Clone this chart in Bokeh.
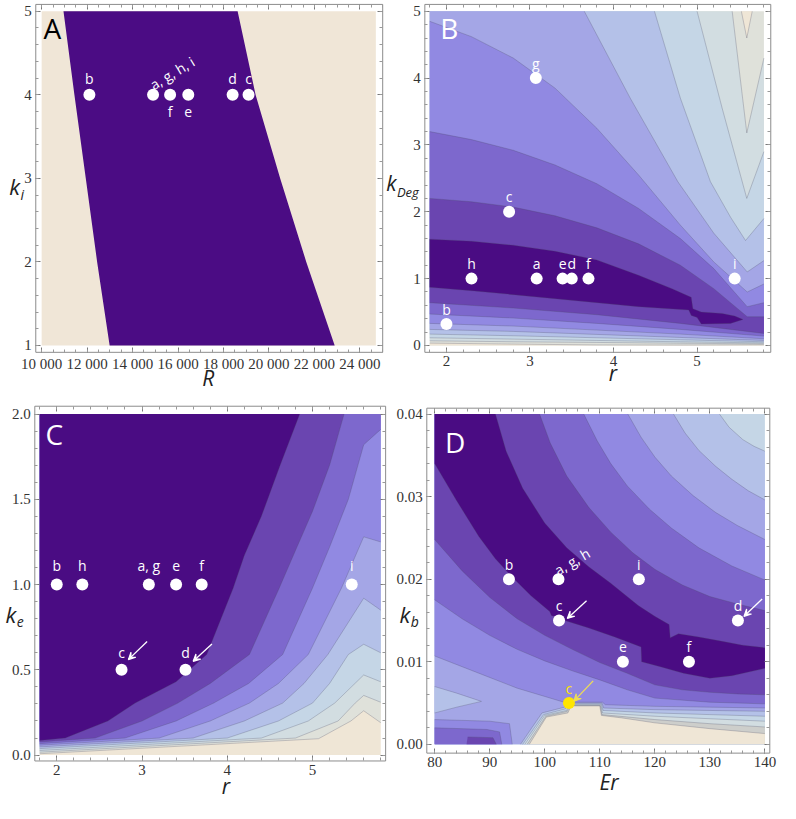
from bokeh.plotting import figure
from bokeh.layouts import column, row
from bokeh.models import Range1d, FixedTicker, Arrow, VeeHead, LinearAxis
from bokeh.embed import file_html
from bokeh.resources import INLINE
from bokeh.core.properties import value

# ---------------- palette: contour level colours, index 9 = darkest ----------------
LEVELS = ["#efe6d6", "#dfe1da", "#d2dde1", "#c5d6e6", "#b4c1e8",
          "#a4a6e6", "#9189e2", "#7d68cd", "#6a45b0", "#4a0c83"]
A_PURPLE = "#4b0c84"
A_BEIGE = "#f0e6d7"
LINE_C = "#4c4c66"
FRAME_C = "#8c8c8c"
YELLOW = "#ffe500"

# ================= Panel A data =================
A_R_EXTENT = [10000, 24700]
A_KI_EXTENT = [1, 5]
A_BAND_KI = [5, 4, 3, 2, 1]
A_BAND_LEFT_R = [10960, 11440, 11940, 12440, 12990]
A_BAND_RIGHT_R = [18620, 19410, 20490, 21640, 22890]
A_PT_R = [14900, 12100, 19100, 18400, 16450, 15650]
A_PT_KI = [4, 4, 4, 4, 4, 4]
A_PT_LAB = ["a, g, h, i", "b", "c", "d", "e", "f"]
A_X_TICKS = [10000, 12000, 14000, 16000, 18000, 20000, 22000, 24000]
A_X_TICK_LABELS = ["10 000", "12 000", "14 000", "16 000", "18 000", "20 000", "22 000", "24 000"]
A_Y_TICKS = [1, 2, 3, 4, 5]

# ================= Panel B data (r, kDeg) =================
B_R_EXTENT = [1.8, 5.8]
B_K_EXTENT = [0.0, 5.0]
B_C0_X = [5.53, 5.595, 5.66]
B_C0_Y = [5.0, 4.6, 5.0]
B_C1_X = [5.42, 5.595, 5.8]
B_C1_Y = [5.0, 3.18, 4.3]
B_C2_X = [5.0, 5.3, 5.595, 5.8]
B_C2_Y = [5.0, 3.55, 2.2, 2.9]
B_C3_X = [4.49, 4.8, 5.16, 5.4, 5.58, 5.8]
B_C3_Y = [5.0, 3.7, 2.45, 1.92, 1.57, 1.9]
B_C4_X = [3.65, 4.2, 4.77, 5.2, 5.6, 5.8]
B_C4_Y = [5.0, 3.7, 2.45, 1.68, 1.1, 1.27]
B_UP_X = [1.8, 2.3, 2.8, 3.3, 3.8, 4.3, 4.8, 5.2, 5.6, 5.8]
B_C5_Y = [4.85, 4.62, 4.3, 3.85, 3.25, 2.55, 1.8, 1.25, 0.8, 0.92]
B_C6_Y = [3.2, 3.08, 2.92, 2.7, 2.42, 2.05, 1.6, 1.15, 0.58, 0.64]
B_C7_Y = [2.2, 2.15, 2.07, 1.94, 1.76, 1.52, 1.2, 0.85, 0.43, 0.43]
B_DARK_X = [1.8, 2.3, 2.8, 3.3, 3.8, 4.3, 4.7, 4.93, 4.95, 5.05, 5.3, 5.45, 5.55,
            5.4, 5.05, 5.0, 4.93, 4.9, 4.3, 3.8, 3.3, 2.8, 2.3, 1.8]
B_DARK_Y = [1.59, 1.56, 1.5, 1.41, 1.28, 1.05, 0.85, 0.72, 0.55, 0.5, 0.48, 0.44, 0.39,
            0.33, 0.32, 0.42, 0.45, 0.53, 0.58, 0.64, 0.7, 0.76, 0.82, 0.87]
B_LOW_X = [1.8, 2.8, 3.8, 4.8, 5.8]
B_LC0_Y = [0.035, 0.02, 0.008, 0.006, 0.01]
B_LC1_Y = [0.07, 0.055, 0.045, 0.033, 0.024]
B_LC2_Y = [0.115, 0.095, 0.075, 0.055, 0.038]
B_LC3_Y = [0.17, 0.145, 0.115, 0.085, 0.055]
B_LC4_Y = [0.24, 0.21, 0.165, 0.12, 0.075]
B_LC5_Y = [0.33, 0.29, 0.23, 0.17, 0.1]
B_LC6_Y = [0.47, 0.41, 0.33, 0.24, 0.14]
B_LC7_Y = [0.64, 0.56, 0.46, 0.33, 0.18]
B_PT_R = [3.08, 2.0, 2.75, 3.5, 3.39, 3.7, 3.07, 2.3, 5.45]
B_PT_K = [1, 0.32, 2, 1, 1, 1, 4, 1, 1]
B_PT_LAB = ["a", "b", "c", "d", "e", "f", "g", "h", "i"]
B_X_TICKS = [2, 3, 4, 5]
B_Y_TICKS = [0, 1, 2, 3, 4, 5]

# ================= Panel C data (r, ke) =================
C_R_EXTENT = [1.8, 5.8]
C_K_EXTENT = [0.0, 2.0]
C_C0_X = [5.8, 5.6, 5.45, 5.07, 1.8]
C_C0_Y = [0.19, 0.26, 0.2, 0.096, 0.008]
C_C1_X = [5.8, 5.6, 5.5, 5.3, 4.8, 1.8]
C_C1_Y = [0.31, 0.35, 0.305, 0.2, 0.1, 0.017]
C_C2_X = [5.8, 5.6, 5.26, 4.95, 4.4, 1.8]
C_C2_Y = [0.43, 0.47, 0.305, 0.2, 0.1, 0.027]
C_C3_X = [5.8, 5.6, 5.42, 5.2, 5.0, 4.6, 4.0, 1.8]
C_C3_Y = [0.6, 0.65, 0.59, 0.42, 0.305, 0.2, 0.1, 0.038]
C_C4_X = [5.8, 5.6, 5.18, 4.9, 4.65, 4.2, 3.6, 1.8]
C_C4_Y = [0.85, 0.92, 0.59, 0.42, 0.305, 0.2, 0.1, 0.048]
C_C5_X = [5.8, 5.6, 5.34, 4.95, 4.6, 4.26, 3.8, 3.2, 1.8]
C_C5_Y = [1.25, 1.28, 0.98, 0.59, 0.42, 0.305, 0.2, 0.1, 0.058]
C_C6_X = [5.8, 5.6, 5.42, 5.2, 5.0, 4.65, 4.25, 3.84, 3.4, 2.8, 1.8]
C_C6_Y = [1.91, 1.82, 1.5, 1.22, 0.98, 0.59, 0.42, 0.305, 0.2, 0.1, 0.067]
C_C7_X = [5.37, 5.2, 5.0, 4.8, 4.61, 4.26, 3.8, 3.42, 3.0, 2.45, 1.8]
C_C7_Y = [2.0, 1.7, 1.43, 1.2, 0.98, 0.59, 0.42, 0.305, 0.2, 0.1, 0.077]
C_C8_X = [4.85, 4.62, 4.4, 4.2, 4.07, 3.76, 3.4, 2.92, 2.6, 2.1, 1.8]
C_C8_Y = [2.0, 1.7, 1.4, 1.17, 0.98, 0.59, 0.43, 0.305, 0.2, 0.1, 0.086]
C_PT_R = [3.08, 2.0, 2.76, 3.51, 3.4, 3.7, 2.3, 5.46]
C_PT_K = [1, 1, 0.5, 0.5, 1, 1, 1, 1]
C_PT_LAB = ["a, g", "b", "c", "d", "e", "f", "h", "i"]
C_ARROW_X0 = [3.06, 3.82]
C_ARROW_Y0 = [0.666, 0.652]
C_ARROW_X1 = [2.84, 3.60]
C_ARROW_Y1 = [0.56, 0.55]
C_X_TICKS = [2, 3, 4, 5]
C_Y_TICKS = [0.0, 0.5, 1.0, 1.5, 2.0]

# ================= Panel D data (Er, kb) =================
D_E_EXTENT = [80, 140]
D_K_EXTENT = [0.0, 0.04]
D_C3_X = [131.75, 133.5, 136, 138, 140]
D_C3_Y = [0.04, 0.0384, 0.0369, 0.0361, 0.0355]
D_C4_X = [123.4, 125.5, 128, 131, 134, 137, 140]
D_C4_Y = [0.04, 0.0377, 0.0356, 0.0337, 0.0321, 0.0307, 0.0296]
D_C5_X = [115.1, 117.5, 120, 123, 127, 131, 135, 140]
D_C5_Y = [0.04, 0.0372, 0.0348, 0.0325, 0.0301, 0.0281, 0.0265, 0.0248]
D_C6_X = [107.1, 109.5, 112, 115, 119, 123, 128, 134, 140]
D_C6_Y = [0.04, 0.0368, 0.034, 0.0313, 0.0285, 0.0262, 0.0238, 0.0216, 0.0199]
D_C7_X = [99.07, 101, 104, 108, 112, 116, 120, 125, 130, 135, 140]
D_C7_Y = [0.04, 0.0365, 0.0325, 0.0287, 0.0257, 0.0232, 0.0212, 0.0193, 0.0179, 0.017, 0.0162]
D_DARK_UP_X = [91.05, 93, 96, 100, 104, 108, 112, 117, 120, 122.6, 122.8, 124.3, 128, 132, 136, 140]
D_DARK_UP_Y = [0.04, 0.0355, 0.031, 0.0268, 0.0238, 0.0215, 0.0195, 0.0168, 0.0155, 0.0145,
               0.0129, 0.0134, 0.013, 0.0125, 0.012, 0.0117]
D_DARK_LO_X = [80, 84, 88, 91, 94.3, 97.5, 100.9, 101.2, 103.2, 108, 112.7, 117.5, 117.6,
               121, 125.2, 130, 134, 140]
D_DARK_LO_Y = [0.034, 0.0295, 0.0252, 0.0225, 0.0201, 0.018, 0.0161, 0.0156, 0.0151, 0.0141,
               0.013, 0.0118, 0.01, 0.0094, 0.0086, 0.008, 0.0083, 0.0092]
D_L1_LO_X = [80, 85, 90, 95, 100, 105, 110, 115, 120, 125, 130, 135, 140]
D_L1_LO_Y = [0.0248, 0.021, 0.0178, 0.0152, 0.0132, 0.0115, 0.0099, 0.0086, 0.0072, 0.0066,
             0.0063, 0.0061, 0.006]
D_L2_LO_X = [80, 85, 90, 95, 100, 105, 110, 115, 120, 130, 140]
D_L2_LO_Y = [0.0175, 0.0152, 0.0132, 0.0115, 0.0101, 0.0089, 0.0078, 0.0066, 0.0056, 0.0051, 0.0049]
D_L3_LO_X = [80, 85, 90, 95, 100, 103.5, 110.5, 111, 120, 130, 140]
D_L3_LO_Y = [0.0107, 0.0094, 0.0081, 0.0068, 0.0058, 0.0051, 0.0051, 0.0048, 0.0046, 0.0045, 0.0044]
D_WEDGE_X = [80, 84, 88.5, 84, 80]
D_WEDGE_Y = [0.007, 0.0062, 0.0052, 0.0045, 0.0038]
D_CORNER3_X = [80, 80, 90, 93.6, 94.1]
D_CORNER3_Y = [0, 0.003, 0.0028, 0.0025, 0]
D_CORNER2_X = [80, 80, 89.5, 91.8, 92.2]
D_CORNER2_Y = [0, 0.002, 0.0018, 0.0015, 0]
D_CORNER1_X = [85.8, 86, 90.6, 91.2]
D_CORNER1_Y = [0, 0.0009, 0.0008, 0]
D_SL1_X = [95.6, 99.5, 103.6, 104.0, 110.4, 110.7, 120, 130, 140]
D_SL1_Y = [0, 0.0038, 0.0045, 0.005, 0.005, 0.0044, 0.0042, 0.0041, 0.004]
D_SL2_X = [96.0, 99.8, 103.8, 104.2, 110.3, 110.6, 120, 130, 140]
D_SL2_Y = [0, 0.0036, 0.0043, 0.0049, 0.0049, 0.0041, 0.0038, 0.0036, 0.0034]
D_SL3_X = [96.4, 100.0, 104.0, 104.4, 110.2, 110.5, 120, 130, 140]
D_SL3_Y = [0, 0.0035, 0.0041, 0.0048, 0.0048, 0.0038, 0.0034, 0.0031, 0.0028]
D_SL4_X = [96.8, 100.2, 104.1, 104.6, 110.1, 110.4, 120, 130, 140]
D_SL4_Y = [0, 0.0034, 0.004, 0.0047, 0.0047, 0.0036, 0.003, 0.0025, 0.0021]
D_BEIGE_X = [97.2, 100.3, 104.2, 104.8, 110.0, 110.3, 114, 120, 130, 140]
D_BEIGE_Y = [0, 0.0033, 0.0038, 0.00465, 0.00465, 0.0035, 0.0032, 0.0026, 0.0019, 0.0013]
D_PT_E = [102.5, 93.5, 102.6, 135.1, 114.2, 126.2, 117.1]
D_PT_K = [0.02, 0.02, 0.015, 0.015, 0.01, 0.01, 0.02]
D_PT_LAB = ["a, g, h", "b", "c", "d", "e", "f", "i"]
D_HL_E = [104.4]
D_HL_K = [0.005]
D_HL_LAB = ["c"]
D_ARROW_X0 = [107.6, 139.5]
D_ARROW_Y0 = [0.0174, 0.0176]
D_ARROW_X1 = [104.1, 136.2]
D_ARROW_Y1 = [0.01525, 0.0155]
D_HL_ARROW = [108.8, 0.00768, 105.3, 0.00523]
D_X_TICKS = [80, 90, 100, 110, 120, 130, 140]
D_Y_TICKS = [0.0, 0.01, 0.02, 0.03, 0.04]

# ---------------- page geometry (reference pixels scaled into the window) ----------------
SCALE = 0.98


def page(r):
    return 8 + SCALE * r


class Panel:
    def __init__(self, cx0, cy0, cw, ch, xa, ya, box):
        (px1, v1), (px2, v2) = xa
        c1, c2 = page(px1) - cx0, page(px2) - cx0
        kx = (v2 - v1) / (c2 - c1)
        (py1, w1), (py2, w2) = ya
        d1, d2 = page(py1) - cy0, page(py2) - cy0
        ky = (w2 - w1) / (d2 - d1)
        self.X = lambda rx: v1 + (page(rx) - cx0 - c1) * kx
        self.Y = lambda ry: w1 + (page(ry) - cy0 - d1) * ky
        xs, xe = v1 - c1 * kx, v1 + (cw - c1) * kx
        yt, yb = w1 - d1 * ky, w1 + (ch - d1) * ky
        self.box = (self.X(box[0]), self.X(box[1]), self.Y(box[3]), self.Y(box[2]))
        p = figure(frame_width=cw, frame_height=ch, x_range=Range1d(xs, xe), y_range=Range1d(yb, yt),
                   min_border=0, min_border_left=0, min_border_right=0, min_border_top=0,
                   min_border_bottom=0, output_backend="svg", toolbar_location=None)
        p.grid.visible = False
        p.outline_line_color = None
        p.background_fill_color = "white"
        p.border_fill_color = "white"
        self.p = p

    def axes(self, xt, xm, yt, ym, xover=None, yover=None):
        p = self.p
        bx0, bx1, by0, by1 = self.box
        xm = [m for m in xm if bx0 <= m <= bx1]
        ym = [m for m in ym if by0 <= m <= by1]
        bottom, left = p.xaxis[0], p.yaxis[0]
        top = LinearAxis()
        right = LinearAxis()
        p.add_layout(top, "above")
        p.add_layout(right, "right")
        bottom.fixed_location = by0
        top.fixed_location = by1
        left.fixed_location = bx0
        right.fixed_location = bx1
        for ax, t, m, ov, shown in ((bottom, xt, xm, xover, True), (top, xt, xm, None, False),
                                     (left, yt, ym, yover, True), (right, yt, ym, None, False)):
            ax.ticker = FixedTicker(ticks=t, minor_ticks=m)
            ax.axis_line_color = None
            ax.major_tick_line_color = "#777777"
            ax.minor_tick_line_color = "#999999"
            ax.major_tick_in = 5
            ax.major_tick_out = 0
            ax.minor_tick_in = 3
            ax.minor_tick_out = 0
            ax.major_label_text_font = "Liberation Serif"
            ax.major_label_text_font_size = "15px"
            ax.major_label_text_color = "#333333"
            ax.major_label_standoff = 4
            if not shown:
                ax.major_label_overrides = {v: "" for v in t}
            elif ov:
                ax.major_label_overrides = ov

    def frame_box(self):
        bx0, bx1, by0, by1 = self.box
        self.p.quad(left=[bx0], right=[bx1], bottom=[by0], top=[by1], fill_color=None,
                    line_color=FRAME_C, line_width=1)

    def text(self, rx, ry, txt, size, color="#222222", align="center", italic=True):
        self.p.text(x=[self.X(rx)], y=[self.Y(ry)], text=[txt], text_color=color,
                    text_font=value("Open Sans"), text_font_size=size,
                    text_font_style="italic" if italic else "normal",
                    text_align=align, text_baseline="middle")

    def ytitle(self, kx_right, ky, sub, sub_y, ksize="22px", ssize="14px"):
        self.text(kx_right, ky, "k", ksize, align="right")
        self.text(kx_right + 0.5, sub_y, sub, ssize, align="left")


def fill(p, xs, ys, color):
    p.patch(list(xs), list(ys), fill_color=color, line_color=None)


def cline(p, xs, ys):
    p.line(list(xs), list(ys), line_color=LINE_C, line_alpha=0.45, line_width=0.6)


def rect(p, xe, ye, color):
    p.quad(left=[xe[0]], right=[xe[1]], bottom=[ye[0]], top=[ye[1]], fill_color=color, line_color=None)


def dots(p, xs, ys, color="white"):
    p.scatter(list(xs), list(ys), size=12, fill_color=color, line_color=None)


def labels(p, xs, ys, txt, dy, color="white", angle=0.0, align="center", dx=0, baseline="middle"):
    p.text(x=list(xs), y=list(ys), text=list(txt), text_color=color, text_font=value("Open Sans"),
           text_font_size="14px", text_align=align, text_baseline=baseline,
           x_offset=dx, y_offset=dy, angle=angle)


def arrow(p, x0, y0, x1, y1, color="white"):
    p.add_layout(Arrow(end=VeeHead(size=7, fill_color=color, line_color=color, line_width=1.2),
                       x_start=x0, y_start=y0, x_end=x1, y_end=y1,
                       line_color=color, line_width=1.3))


def pick(vals, idx):
    return [vals[i] for i in idx]


# ================= Panel A =================
A = Panel(8, 8, 384, 402, ((42, 10000), (383, 24700)), ((11, 5), (352, 1)), (36, 390, 4, 359))
pA = A.p
A.axes(A_X_TICKS, list(range(9500, 25500, 500)), A_Y_TICKS, [0.8 + 0.2 * i for i in range(24)],
       xover={t: s for t, s in zip(A_X_TICKS, A_X_TICK_LABELS)})
rect(pA, A_R_EXTENT, A_KI_EXTENT, A_BEIGE)
fill(pA, A_BAND_LEFT_R + A_BAND_RIGHT_R[::-1], A_BAND_KI + A_BAND_KI[::-1], A_PURPLE)
A.frame_box()
dots(pA, A_PT_R, A_PT_KI)
labels(pA, pick(A_PT_R, [1, 2, 3]), pick(A_PT_KI, [1, 2, 3]), pick(A_PT_LAB, [1, 2, 3]), -16)
labels(pA, pick(A_PT_R, [4, 5]), pick(A_PT_KI, [4, 5]), pick(A_PT_LAB, [4, 5]), 17)
labels(pA, pick(A_PT_R, [0]), pick(A_PT_KI, [0]), pick(A_PT_LAB, [0]), -9, angle=0.55,
       align="left", dx=-2, baseline="alphabetic")
A.text(53, 28, "A", "28px", color="black", italic=False)
A.text(212, 385, "R", "21px")
A.ytitle(20, 189.5, "i", 198)

# ================= Panel B =================
B = Panel(392, 8, 396, 402, ((438, 1.8), (779, 5.8)), ((11, 5), (352, 0)), (433, 786, 4, 359))
pB = B.p
B.axes(B_X_TICKS, [1.6 + 0.2 * i for i in range(23)], B_Y_TICKS, [-0.2 + 0.2 * i for i in range(28)])
bxmin, bxmax = B_R_EXTENT
bymin, bymax = B_K_EXTENT
rect(pB, B_R_EXTENT, B_K_EXTENT, LEVELS[1])
fill(pB, B_C0_X, B_C0_Y, LEVELS[0])
fill(pB, B_LOW_X + [bxmax, bxmin], B_LC0_Y + [bymin, bymin], LEVELS[0])
b_uppers = [(B_C1_X, B_C1_Y, True), (B_C2_X, B_C2_Y, True), (B_C3_X, B_C3_Y, True),
            (B_C4_X, B_C4_Y, True), (B_UP_X, B_C5_Y, False), (B_UP_X, B_C6_Y, False),
            (B_UP_X, B_C7_Y, False)]
b_lowers = [B_LC1_Y, B_LC2_Y, B_LC3_Y, B_LC4_Y, B_LC5_Y, B_LC6_Y, B_LC7_Y]
for k, ((ux, uy, top), ly) in enumerate(zip(b_uppers, b_lowers), start=2):
    xs = ([bxmin] if top else []) + list(ux) + B_LOW_X[::-1]
    ys = ([bymax] if top else []) + list(uy) + ly[::-1]
    fill(pB, xs, ys, LEVELS[k])
fill(pB, B_DARK_X, B_DARK_Y, LEVELS[9])
cline(pB, B_C0_X, B_C0_Y)
for ux, uy, _ in b_uppers:
    cline(pB, ux, uy)
for ly in [B_LC0_Y] + b_lowers:
    cline(pB, B_LOW_X, ly)
cline(pB, B_DARK_X + B_DARK_X[:1], B_DARK_Y + B_DARK_Y[:1])
B.frame_box()
dots(pB, B_PT_R, B_PT_K)
labels(pB, B_PT_R, B_PT_K, B_PT_LAB, -15)
B.text(458, 28, "B", "28px", color="white", italic=False)
B.text(625, 380, "r", "21px")
B.ytitle(404, 186, "Deg", 195, ksize="21px", ssize="13px")

# ================= Panel C =================
C = Panel(8, 410, 388, 401, ((40, 1.8), (388, 5.8)), ((422, 2.0), (770, 0.0)), (35, 393, 414, 776))
pC = C.p
C.axes(C_X_TICKS, [1.6 + 0.2 * i for i in range(23)], C_Y_TICKS, [-0.1 + 0.1 * i for i in range(23)],
       yover={0.0: "0.0", 0.5: "0.5", 1.0: "1.0", 1.5: "1.5", 2.0: "2.0"})
cxmin, cxmax = C_R_EXTENT
cymin, cymax = C_K_EXTENT
rect(pC, C_R_EXTENT, C_K_EXTENT, LEVELS[0])
c_lines = [(C_C0_X, C_C0_Y), (C_C1_X, C_C1_Y), (C_C2_X, C_C2_Y), (C_C3_X, C_C3_Y),
           (C_C4_X, C_C4_Y), (C_C5_X, C_C5_Y), (C_C6_X, C_C6_Y), (C_C7_X, C_C7_Y),
           (C_C8_X, C_C8_Y)]
for k, (cx, cy) in enumerate(c_lines, start=1):
    from_right = cx[0] >= cxmax
    xs = list(cx) + [cxmin] + ([cxmax] if from_right else [])
    ys = list(cy) + [cymax] + ([cymax] if from_right else [])
    fill(pC, xs, ys, LEVELS[k])
for cx, cy in c_lines:
    cline(pC, cx, cy)
C.frame_box()
dots(pC, C_PT_R, C_PT_K)
labels(pC, pick(C_PT_R, [0, 1, 4, 5, 6, 7]), pick(C_PT_K, [0, 1, 4, 5, 6, 7]),
       pick(C_PT_LAB, [0, 1, 4, 5, 6, 7]), -19)
labels(pC, pick(C_PT_R, [2, 3]), pick(C_PT_K, [2, 3]), pick(C_PT_LAB, [2, 3]), -17)
for i in range(2):
    arrow(pC, C_ARROW_X0[i], C_ARROW_Y0[i], C_ARROW_X1[i], C_ARROW_Y1[i])
C.text(55, 442, "C", "28px", color="white", italic=False)
C.text(230, 802, "r", "21px")
C.ytitle(16, 626, "e", 634)

# ================= Panel D =================
D = Panel(396, 410, 392, 401, ((443, 80), (780, 140)), ((422, 0.04), (759, 0.0)), (435, 785, 416, 768))
pD = D.p
D.axes(D_X_TICKS, list(range(78, 144, 2)), D_Y_TICKS, [-0.002 + 0.002 * i for i in range(23)],
       yover={0.0: "0.00", 0.01: "0.01", 0.02: "0.02", 0.03: "0.03", 0.04: "0.04"})
dxmin, dxmax = D_E_EXTENT
dymin, dymax = D_K_EXTENT
rect(pD, D_E_EXTENT, D_K_EXTENT, LEVELS[3])
fill(pD, [dxmin] + D_C3_X + [dxmax, dxmin], [dymax] + D_C3_Y + [dymin, dymin], LEVELS[4])
fill(pD, [dxmin] + D_C4_X + [dxmax, dxmin], [dymax] + D_C4_Y + [dymin, dymin], LEVELS[5])
d_bands = [(D_C5_X, D_C5_Y, D_L3_LO_X, D_L3_LO_Y, 6),
           (D_C6_X, D_C6_Y, D_L2_LO_X, D_L2_LO_Y, 7),
           (D_C7_X, D_C7_Y, D_L1_LO_X, D_L1_LO_Y, 8),
           (D_DARK_UP_X, D_DARK_UP_Y, D_DARK_LO_X, D_DARK_LO_Y, 9)]
for ux, uy, lx, ly, k in d_bands:
    fill(pD, [dxmin] + ux + lx[::-1], [dymax] + uy + ly[::-1], LEVELS[k])
fill(pD, D_WEDGE_X, D_WEDGE_Y, LEVELS[4])
fill(pD, D_CORNER3_X, D_CORNER3_Y, LEVELS[6])
fill(pD, D_CORNER2_X, D_CORNER2_Y, LEVELS[7])
fill(pD, D_CORNER1_X, D_CORNER1_Y, LEVELS[8])
d_stack = [(D_SL1_X, D_SL1_Y, 4), (D_SL2_X, D_SL2_Y, 3), (D_SL3_X, D_SL3_Y, 2),
           (D_SL4_X, D_SL4_Y, 1), (D_BEIGE_X, D_BEIGE_Y, 0)]
for sx, sy, k in d_stack:
    fill(pD, sx + [dxmax], sy + [dymin], "#cdcecb" if k == 1 else LEVELS[k])
for cx, cy in [(D_C3_X, D_C3_Y), (D_C4_X, D_C4_Y)]:
    cline(pD, cx, cy)
for ux, uy, lx, ly, k in d_bands:
    cline(pD, ux, uy)
    cline(pD, lx, ly)
cline(pD, D_WEDGE_X, D_WEDGE_Y)
for cx, cy in [(D_CORNER3_X, D_CORNER3_Y), (D_CORNER2_X, D_CORNER2_Y), (D_CORNER1_X, D_CORNER1_Y)]:
    cline(pD, cx[1:], cy[1:])
for sx, sy, k in d_stack:
    cline(pD, sx, sy)
D.frame_box()
dots(pD, D_PT_E, D_PT_K)
labels(pD, D_PT_E[1:], D_PT_K[1:], D_PT_LAB[1:], -15)
labels(pD, D_PT_E[:1], D_PT_K[:1], D_PT_LAB[:1], -8, angle=0.53, align="left", dx=-3,
       baseline="alphabetic")
for i in range(2):
    arrow(pD, D_ARROW_X0[i], D_ARROW_Y0[i], D_ARROW_X1[i], D_ARROW_Y1[i])
dots(pD, D_HL_E, D_HL_K, YELLOW)
labels(pD, D_HL_E, D_HL_K, D_HL_LAB, -15, color=YELLOW)
arrow(pD, D_HL_ARROW[0], D_HL_ARROW[1], D_HL_ARROW[2], D_HL_ARROW[3], color="#eedd55")
D.text(464, 451, "D", "28px", color="white", italic=False)
D.text(621, 797, "Er", "21px")
D.ytitle(418, 626, "b", 634)

layout = column(row(pA, pB), row(pC, pD))
open("out.html", "w").write(file_html(layout, INLINE))
